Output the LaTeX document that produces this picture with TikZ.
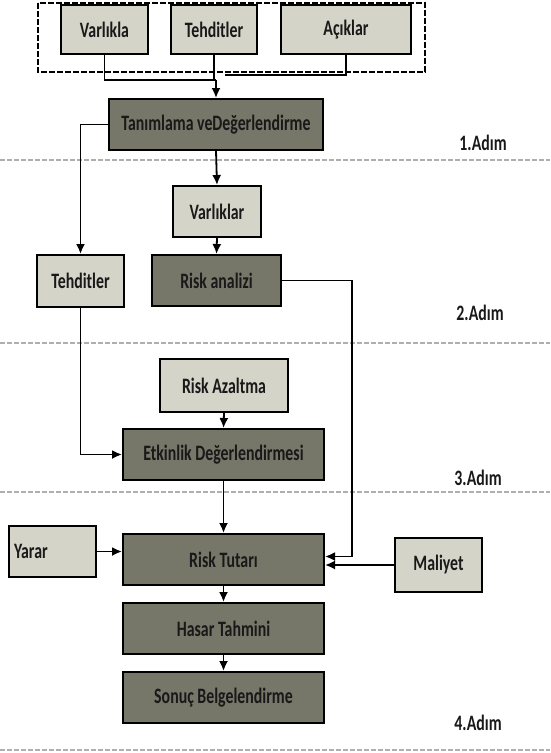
\documentclass[tikz,border=0pt]{standalone}
\usepackage{fontspec}
\setmainfont{Carlito}[FakeStretch=0.72]
\usetikzlibrary{arrows.meta}
\usetikzlibrary{calc}

\definecolor{kutuacik}{RGB}{212,212,200}
\definecolor{kutukoyu}{RGB}{118,118,105}
\definecolor{ayirici}{RGB}{175,175,175}

\begin{document}
\begin{tikzpicture}[x=1pt,y=-1pt,
			every node/.style={font=\fontsize{22}{24}\selectfont\bfseries,text=black!90},
			acik/.style={draw=black,line width=2pt,fill=kutuacik,inner sep=0pt},
			koyu/.style={draw=black,line width=2pt,fill=kutukoyu,inner sep=0pt},
			adim/.style={font=\fontsize{22}{24}\selectfont\bfseries},
			ayrac/.style={ayirici,line width=2pt,dash pattern=on 5pt off 2pt},
			ok/.style={line width=1.8pt,-{Latex[length=10pt,width=9pt]}},
			cizgi/.style={line width=1.8pt}]
			\useasboundingbox (0,0) rectangle (550,753);
			
			\draw[line width=2.5pt,dash pattern=on 6pt off 2pt] (38,3) rectangle (425,72);
			\node[acik,minimum width=87pt,minimum height=49pt] (va) at (104.5,29.5) {Varlıkla};
			\node[acik,minimum width=86pt,minimum height=49pt] (te) at (214,29.5) {Tehditler};
			\node[acik,minimum width=130pt,minimum height=49pt] (ac) at (346,29.5) {Açıklar};
			
			\node[koyu,minimum width=214pt,minimum height=51pt] (tn) at (216,124.5) {Tanımlama veDeğerlendirme};
			\node[adim] (a1) at (483,143) {1.Adım};
			\draw[ayrac] (0,160) -- (550,160);
			
			\node[acik,minimum width=88pt,minimum height=51pt] (vr) at (217,211.5) {Varlıklar};
			\node[koyu,minimum width=129pt,minimum height=51pt] (ra) at (216.5,280.5) {Risk analizi};
			\node[acik,minimum width=87pt,minimum height=52pt] (th) at (80.5,281) {Tehditler};
			\node[adim] (a2) at (480,313) {2.Adım};
			\draw[ayrac] (0,343) -- (550,343);
			
			\node[acik,minimum width=128pt,minimum height=53pt] (az) at (224,385.5) {Risk Azaltma};
			\node[koyu,minimum width=201pt,minimum height=51pt] (ed) at (223.5,454.5) {Etkinlik Değerlendirmesi};
			\node[adim] (a3) at (478,478) {3.Adım};
			\draw[ayrac] (0,492) -- (550,492);
			
			\node[koyu,minimum width=201pt,minimum height=51pt] (rt) at (223.5,559.5) {Risk Tutarı};
			\node[acik,minimum width=87pt,minimum height=51pt,text width=77pt,align=left] (ya) at (52.5,551.5) {Yarar};
			\node[acik,minimum width=87pt,minimum height=54pt] (ml) at (438.5,565) {Maliyet};
			\node[koyu,minimum width=201pt,minimum height=51pt] (ht) at (223.5,628.5) {Hasar Tahmini};
			\node[koyu,minimum width=201pt,minimum height=51pt] (sb) at (223.5,697.5) {Sonuç Belgelendirme};
			\node[adim] (a4) at (478,723) {4.Adım};
			\draw[ayrac] (0,750) -- (550,750);
			
			\coordinate (bir) at (tn.north |- 0,80);
			\coordinate (acu) at (225,75);
			\coordinate (sag) at (352,0);
			\draw[cizgi] (va.south) |- (bir);
			\draw[cizgi] (te.south) |- (bir);
			\draw[cizgi] (ac.south) |- (acu);
			\draw[ok] (bir) -- (tn.north);
			\draw[ok] (tn.south) -- (vr.north);
			\draw[ok] (tn.west) -| (th.north);
			\draw[ok] (vr.south) -- (ra.north);
			\draw[ok] (ra.east) -| ($(sag |- rt.east)+(0,-3)$) -- ($(rt.east)+(0,-3)$);
			\draw[ok] (th.south) |- (ed.west);
			\draw[ok] (az.south) -- (ed.north);
			\draw[ok] (ed.south) -- (rt.north);
			\draw[ok] (ya.east) -- (rt.west |- ya.east);
			\draw[ok] (ml.west) -- (rt.east |- ml.west);
			\draw[ok] (rt.south) -- (ht.north);
			\draw[ok] (ht.south) -- (sb.north);
		\end{tikzpicture}
\end{document}
